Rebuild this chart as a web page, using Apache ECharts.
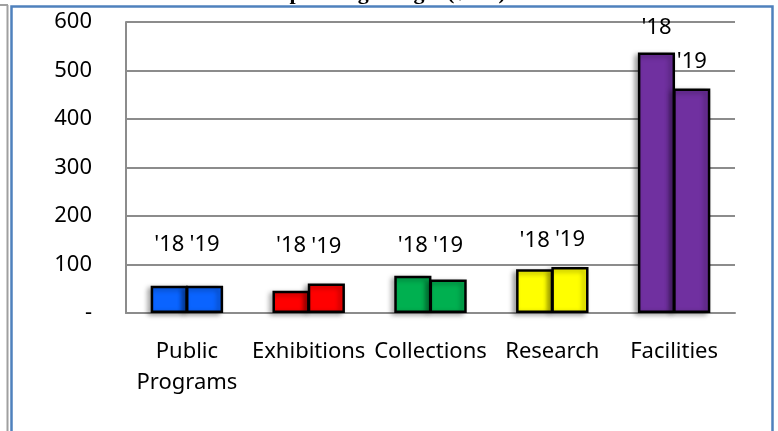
<!DOCTYPE html>
<html>
<head>
<meta charset="utf-8">
<script src="https://cdn.jsdelivr.net/npm/echarts@6/dist/echarts.min.js"></script>
<style>
html,body{margin:0;padding:0;background:#fff;}
#chart{width:778px;height:431px;}
</style>
</head>
<body>
<div id="chart"></div>
<script>
const titleText = 'Operating Budget ($000)';
const categories = ['Public\nPrograms', 'Exhibitions', 'Collections', 'Research', 'Facilities'];
const seriesNames = ["'18", "'19"];
const values2018 = [56, 46, 77, 90, 537];
const values2019 = [56, 61, 69, 95, 463];
const yTickValues = [0, 100, 200, 300, 400, 500, 600];
const categoryColors = ['#0a64ff', '#ff0000', '#00b050', '#ffff00', '#7030a0'];
// layout only: gap between bar top and its year label
const labelGap2018 = [30, 34, 19, 18, 14];
const labelGap2019 = [30, 26, 23, 16, 16];

const FONT = 'Noto Sans';
const chart = echarts.init(document.getElementById('chart'), null, {renderer: 'canvas'});

function buildData(values, gaps) {
  return values.map((v, i) => ({
    value: v,
    label: {distance: gaps[i]},
    itemStyle: {color: categoryColors[i]}
  }));
}

function makeSeries(name, values, gaps) {
  return {
    name: name,
    type: 'bar',
    barWidth: '30.5%',
    barGap: '-5%',
    data: buildData(values, gaps),
    itemStyle: {
      borderColor: '#000',
      borderWidth: 2.5,
      shadowBlur: 5,
      shadowColor: 'rgba(0,0,0,0.35)',
      shadowOffsetX: -3,
      shadowOffsetY: 2
    },
    label: {
      show: true,
      position: 'top',
      formatter: name,
      color: '#000',
      fontFamily: FONT,
      fontSize: 22
    }
  };
}

chart.setOption({
  animation: false,
  backgroundColor: '#fff',
  title: {
    text: titleText,
    left: 'center',
    top: -23,
    textStyle: {fontFamily: 'Liberation Serif', fontWeight: 'bold', fontSize: 22, color: '#000'}
  },
  grid: {left: 126, right: 43, top: 22, bottom: 118, containLabel: false},
  xAxis: {
    type: 'category',
    data: categories,
    axisLine: {show: true, lineStyle: {color: '#8c8c8c', width: 2}},
    axisTick: {show: false},
    axisLabel: {color: '#000', fontFamily: FONT, fontSize: 22, margin: 23, lineHeight: 31, interval: 0}
  },
  yAxis: {
    type: 'value',
    min: yTickValues[0],
    max: yTickValues[yTickValues.length - 1],
    interval: yTickValues[1] - yTickValues[0],
    axisLine: {show: true, lineStyle: {color: '#8c8c8c', width: 2}},
    axisTick: {show: false},
    splitLine: {show: true, lineStyle: {color: '#8c8c8c', width: 2}},
    axisLabel: {
      color: '#000', fontFamily: FONT, fontSize: 22, margin: 34,
      formatter: v => (v === 0 ? '-' : String(v))
    }
  },
  series: [
    makeSeries(seriesNames[0], values2018, labelGap2018),
    makeSeries(seriesNames[1], values2019, labelGap2019)
  ],
  graphic: [
    {type: 'line', z: 100, shape: {x1: 7.5, y1: 5, x2: 7.5, y2: 431}, style: {stroke: '#a0a0a0', lineWidth: 2}},
    {type: 'line', z: 100, shape: {x1: 0, y1: 5, x2: 8, y2: 5}, style: {stroke: '#a0a0a0', lineWidth: 2}},
    {type: 'rect', z: 100, shape: {x: 11.5, y: 6.5, width: 761, height: 440}, style: {fill: 'none', stroke: '#4f81bd', lineWidth: 2.5}}
  ]
});
</script>
</body>
</html>
